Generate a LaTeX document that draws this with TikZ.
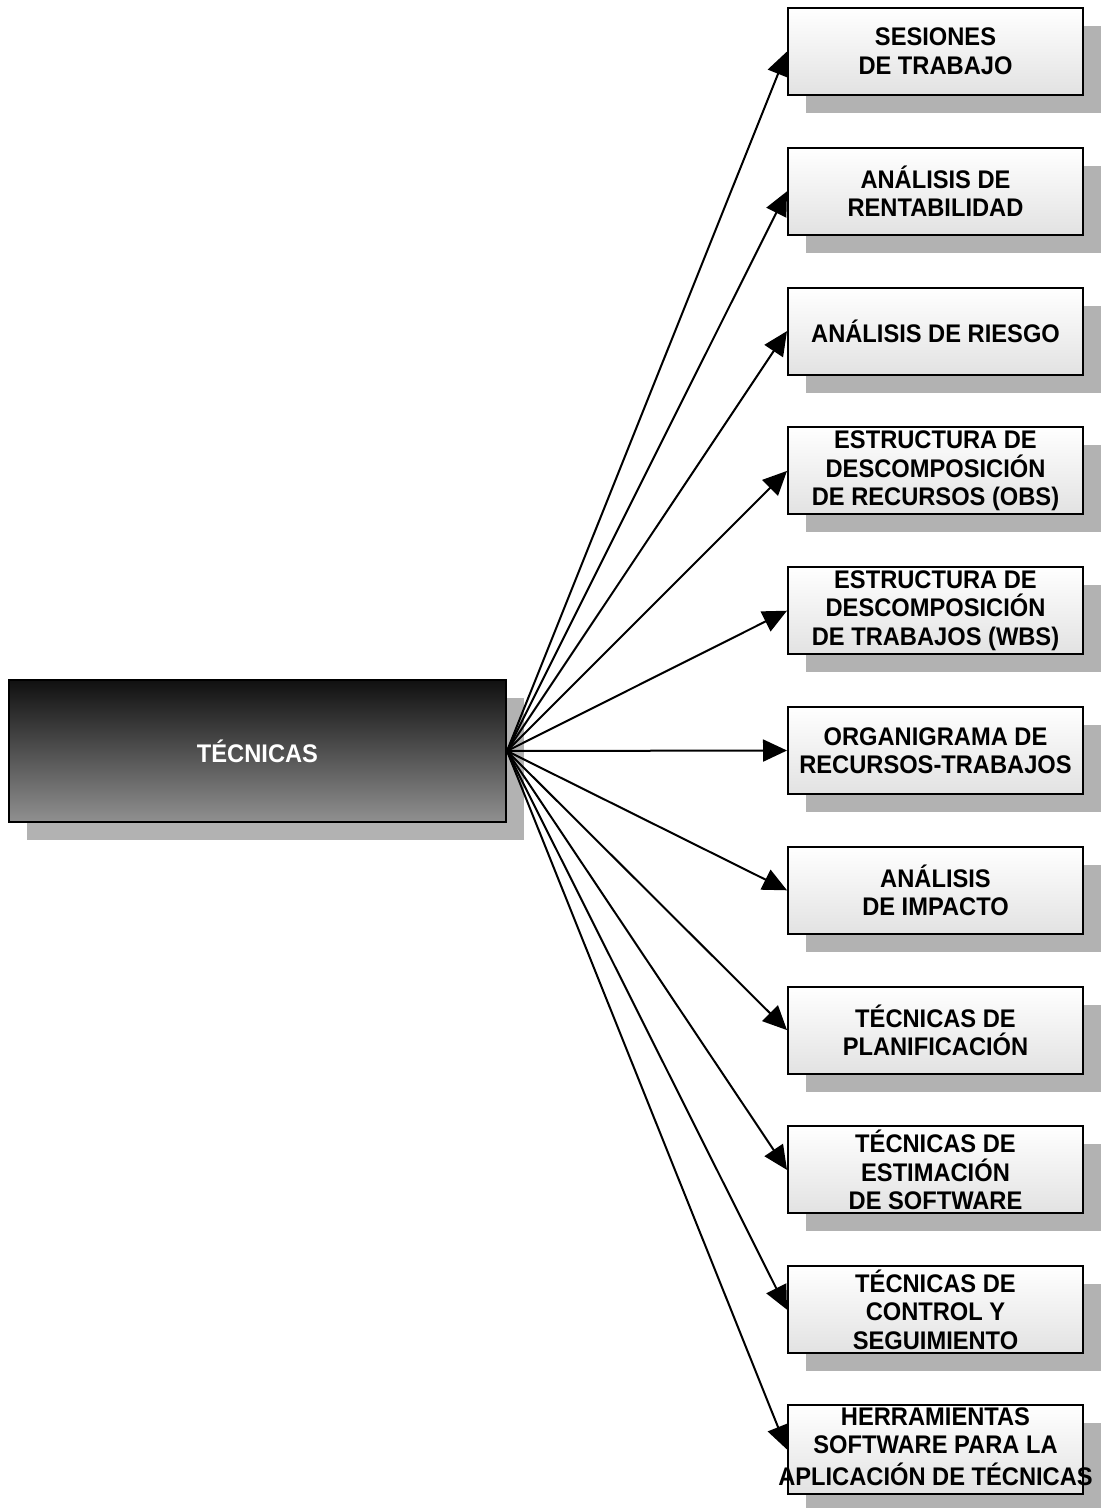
\documentclass[tikz,border=0pt]{standalone}
\usepackage{fontspec}
\setmainfont{Liberation Sans}[FakeStretch=0.93]
\usetikzlibrary{arrows.meta,shadows}
\definecolor{shadowgray}{RGB}{178,178,178}
\definecolor{hubtop}{RGB}{16,16,16}
\definecolor{hubbottom}{RGB}{144,144,144}
\definecolor{leafbottom}{RGB}{226,226,226}
\begin{document}
\begin{tikzpicture}[x=0.75pt,y=-0.75pt,
  boxshadow/.style={general shadow={fill=shadowgray, shadow xshift=13.5pt, shadow yshift=-13.5pt}},
  boxtext/.style={font=\fontsize{19.1}{21.4}\selectfont\bfseries, align=center},
  hub/.style={boxtext, boxshadow, draw=black, line width=1.5pt,
    top color=hubtop, bottom color=hubbottom, text=white,
    minimum width=372.75pt, minimum height=106.5pt, inner sep=0pt},
  leaf/.style={boxtext, boxshadow, draw=black, line width=1.5pt,
    top color=white, bottom color=leafbottom,
    minimum width=221.25pt, minimum height=65.25pt, inner sep=0pt},
  link/.style={line width=1.5pt, -{Triangle[length=18pt,width=16.5pt]}}]
\useasboundingbox (0,0) rectangle (1104,1508);

% central box
\node[hub] (hub) at (257.5,751) {TÉCNICAS};

% technique boxes
\node[leaf] (h1)  at (935.5,51.5)   {SESIONES\\DE TRABAJO};
\node[leaf] (h2)  at (935.5,191.3)  {ANÁLISIS DE\\RENTABILIDAD};
\node[leaf] (h3)  at (935.5,331.1)  {ANÁLISIS DE RIESGO};
\node[leaf] (h4)  at (935.5,470.9)  {ESTRUCTURA DE\\DESCOMPOSICIÓN\\DE RECURSOS (OBS)};
\node[leaf] (h5)  at (935.5,610.7)  {ESTRUCTURA DE\\DESCOMPOSICIÓN\\DE TRABAJOS (WBS)};
\node[leaf] (h6)  at (935.5,750.5)  {ORGANIGRAMA DE\\RECURSOS-TRABAJOS};
\node[leaf] (h7)  at (935.5,890.3)  {ANÁLISIS\\DE IMPACTO};
\node[leaf] (h8)  at (935.5,1030.1) {TÉCNICAS DE\\PLANIFICACIÓN};
\node[leaf] (h9)  at (935.5,1169.9) {TÉCNICAS DE\\ESTIMACIÓN\\DE SOFTWARE};
\node[leaf] (h10) at (935.5,1309.7) {TÉCNICAS DE\\CONTROL Y\\SEGUIMIENTO};
% the last label is wider than its box and spills over both sides
\node[leaf] (h11) at (935.5,1449.5)
  {\makebox[150pt]{\begin{tabular}{@{}c@{}}HERRAMIENTAS\\SOFTWARE PARA LA\\APLICACIÓN DE TÉCNICAS\end{tabular}}};

% connectors
\foreach \i in {1,...,11}
  \draw[link] (hub.east) -- (h\i.west);
\end{tikzpicture}
\end{document}
